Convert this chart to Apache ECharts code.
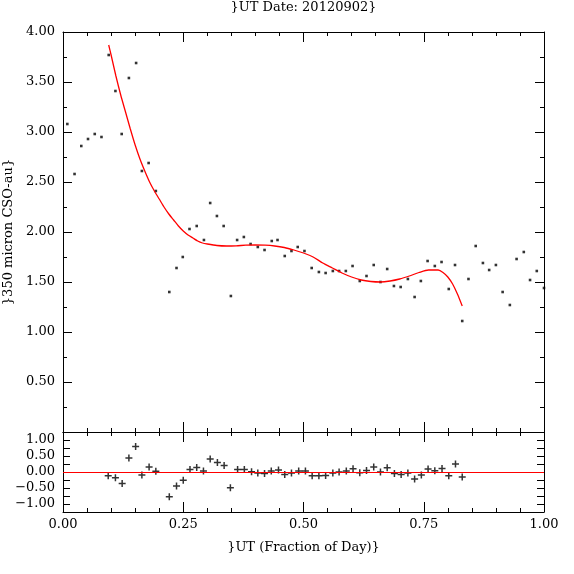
<!DOCTYPE html>
<html>
<head>
<meta charset="utf-8">
<script src="https://cdn.jsdelivr.net/npm/echarts@6/dist/echarts.min.js"></script>
<style>html,body{margin:0;padding:0;background:#fff;}#c{width:574px;height:574px;}</style>
</head>
<body>
<div id="c"></div>
<script>
// ---- data ----
var titleText = '}UT Date: 20120902}';
var xLabel = '}UT (Fraction of Day)}';
var yLabel = '}350 micron CSO-au}';

var obsX = [0.009,0.024,0.038,0.052,0.066,0.080,0.095,0.109,0.122,0.137,0.152,0.164,0.178,0.193,
  0.221,0.236,0.249,0.263,0.278,0.293,0.306,0.320,0.334,0.349,0.362,0.376,0.390,0.405,0.419,0.434,
  0.446,0.461,0.475,0.488,0.502,0.517,0.532,0.546,0.561,0.574,0.588,0.602,0.617,0.631,0.646,0.660,
  0.674,0.688,0.702,0.717,0.731,0.744,0.758,0.773,0.787,0.802,0.815,0.830,0.843,0.858,0.873,0.886,
  0.900,0.914,0.929,0.943,0.958,0.971,0.985,1.000];
var obsY = [3.08,2.58,2.86,2.93,2.98,2.95,3.77,3.41,2.98,3.54,3.69,2.61,2.69,2.41,
  1.40,1.64,1.75,2.03,2.06,1.92,2.29,2.16,2.06,1.36,1.92,1.95,1.88,1.85,1.82,1.91,
  1.92,1.76,1.81,1.85,1.81,1.64,1.60,1.59,1.61,1.61,1.61,1.66,1.51,1.56,1.67,1.50,
  1.63,1.46,1.45,1.53,1.35,1.51,1.71,1.66,1.70,1.43,1.67,1.11,1.53,1.86,1.69,1.62,
  1.67,1.40,1.27,1.73,1.80,1.52,1.61,1.44];

var fitX = [0.095,0.10,0.11,0.12,0.13,0.14,0.15,0.16,0.17,0.18,0.19,0.20,0.21,0.22,0.23,0.24,0.25,
  0.26,0.27,0.28,0.29,0.30,0.32,0.34,0.36,0.38,0.40,0.42,0.44,0.46,0.48,0.50,0.52,0.54,0.56,0.58,
  0.60,0.62,0.64,0.66,0.68,0.70,0.72,0.74,0.76,0.78,0.79,0.80,0.81,0.82,0.83];
var fitY = [3.87,3.77,3.56,3.37,3.20,3.03,2.87,2.73,2.61,2.50,2.41,2.33,2.25,2.18,2.12,2.06,2.01,
  1.97,1.94,1.91,1.89,1.88,1.865,1.86,1.862,1.868,1.87,1.868,1.86,1.845,1.82,1.79,1.75,1.69,1.64,1.59,
  1.55,1.52,1.505,1.50,1.51,1.53,1.56,1.595,1.62,1.62,1.595,1.55,1.48,1.38,1.26];

var resX = [0.094,0.109,0.123,0.137,0.151,0.164,0.179,0.193,0.221,0.236,0.250,0.264,0.278,0.292,
  0.306,0.321,0.335,0.348,0.363,0.377,0.392,0.405,0.419,0.433,0.448,0.461,0.475,0.490,0.504,0.518,
  0.532,0.546,0.561,0.574,0.589,0.603,0.617,0.631,0.646,0.660,0.674,0.689,0.703,0.717,0.731,0.745,
  0.759,0.773,0.788,0.802,0.816,0.830];
var resY = [-0.12,-0.18,-0.36,0.44,0.80,-0.09,0.16,0.02,-0.77,-0.44,-0.26,0.08,0.14,0.03,
  0.41,0.30,0.20,-0.49,0.08,0.08,0.01,-0.03,-0.05,0.03,0.06,-0.08,-0.03,0.03,0.03,-0.12,
  -0.12,-0.11,-0.03,0.00,0.03,0.10,-0.02,0.05,0.16,0.00,0.13,-0.05,-0.08,-0.03,-0.22,-0.09,
  0.09,0.04,0.11,-0.12,0.25,-0.16];

var xTicks = {min:0, max:1, interval:0.25};
var yTopTicks = {min:0, max:4, interval:0.5};
var yResTicks = {min:-1.25, max:1.25, interval:0.25};
var zeroLevel = 0;

// ---- chart ----
function zip(a,b){return a.map(function(v,i){return [v,b[i]];});}
var FONT = 'DejaVu Serif';
var black = '#000';

function xAx(gi, pos, showLabel, name){
  return {
    type:'value', gridIndex:gi, position:pos, min:xTicks.min, max:xTicks.max, interval:xTicks.interval,
    axisLine:{show:true, onZero:false, lineStyle:{color:black, width:1}},
    axisTick:{show:true, inside:true, length:10, lineStyle:{color:black}},
    minorTick:{show:true, splitNumber:5, length:4, lineStyle:{color:black}},
    splitLine:{show:false}, minorSplitLine:{show:false},
    axisLabel:{show:showLabel, margin:6, fontFamily:FONT, fontSize:13, color:black,
      formatter:function(v){return v.toFixed(2);}},
    name: name||'', nameLocation:'middle', nameGap:29,
    nameTextStyle:{fontFamily:FONT, fontSize:13, color:black}
  };
}
function yAx(gi, pos, showLabel, t, minor, fmt, name){
  return {
    type:'value', gridIndex:gi, position:pos, min:t.min, max:t.max, interval:t.interval,
    axisLine:{show:true, onZero:false, lineStyle:{color:black, width:1}},
    axisTick:{show:true, inside:true, length: minor ? 9 : 7, lineStyle:{color:black}},
    minorTick:{show:!!minor, splitNumber:minor||1, length:4, lineStyle:{color:black}},
    splitLine:{show:false}, minorSplitLine:{show:false},
    axisLabel:{show:showLabel, margin:8, fontFamily:FONT, fontSize:13, color:black, formatter:fmt},
    name: name||'', nameLocation:'middle', nameGap:43, nameRotate:90,
    nameTextStyle:{fontFamily:FONT, fontSize:13, color:black}
  };
}
var topFmt = function(v){return v===0?'':v.toFixed(2);};
var resFmt = function(v){
  if (Math.abs(v*2-Math.round(v*2))>1e-6 || Math.abs(v)>1.01) return '';
  return v.toFixed(2).replace('-', '\u2212');
};

var plus = 'path://M2.75,0h1.5v2.75h2.75v1.5h-2.75v2.75h-1.5v-2.75h-2.75v-1.5h2.75z';

var chart = echarts.init(document.getElementById('c'), null, {renderer:'canvas'});
chart.setOption({
  animation:false,
  backgroundColor:'#fff',
  graphic:[{
    type:'text', x:303.5, y:8,
    style:{text:titleText, fontFamily:FONT, fontSize:13, fill:black, textAlign:'center', textVerticalAlign:'middle'}
  }],
  grid:[
    {left:63, right:30, top:32, height:400, outerBoundsMode:'none'},
    {left:63, right:30, top:432, height:80, outerBoundsMode:'none'}
  ],
  xAxis:[
    xAx(0,'bottom',false), xAx(0,'top',false),
    xAx(1,'bottom',true,xLabel), xAx(1,'top',false)
  ],
  yAxis:[
    yAx(0,'left',true,yTopTicks,2,topFmt,yLabel), yAx(0,'right',false,yTopTicks,2,topFmt),
    yAx(1,'left',true,yResTicks,0,resFmt), yAx(1,'right',false,yResTicks,0,resFmt)
  ],
  series:[
    {type:'scatter', xAxisIndex:0, yAxisIndex:0, data:zip(obsX,obsY), symbol:'rect', symbolSize:2.6,
     itemStyle:{color:black}, silent:true},
    {type:'line', xAxisIndex:0, yAxisIndex:0, data:zip(fitX,fitY), smooth:0.25, showSymbol:false,
     lineStyle:{color:'#ff0000', width:1.3}, silent:true, z:3},
    {type:'scatter', xAxisIndex:2, yAxisIndex:2, data:zip(resX,resY), symbol:plus, symbolSize:7,
     itemStyle:{color:black}, silent:true, z:4,
     markLine:{silent:true, symbol:'none', label:{show:false}, animation:false,
       lineStyle:{color:'#ff0000', type:'solid', width:1.2}, data:[{yAxis:zeroLevel}]}}
  ]
});
</script>
</body>
</html>
